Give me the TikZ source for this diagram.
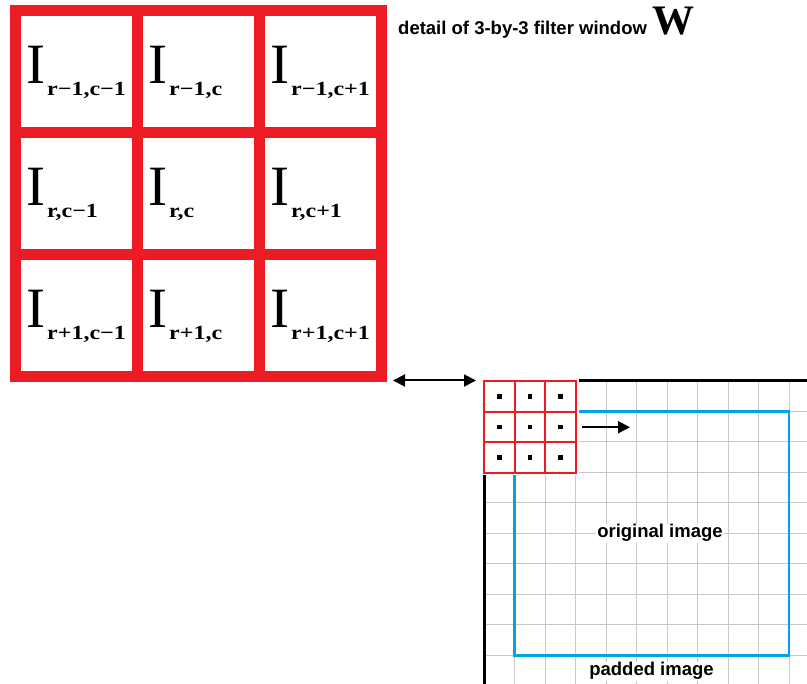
\documentclass[tikz,border=0pt]{standalone}
\usepackage{fontspec}
\setmainfont{Liberation Serif}
\setsansfont{Liberation Sans}
\usetikzlibrary{arrows.meta}
\definecolor{winred}{RGB}{237,28,36}
\definecolor{padblue}{RGB}{0,162,232}
\definecolor{gridgray}{RGB}{200,200,200}
\newcommand{\pix}[1]{{\fontsize{57}{57}\selectfont I}\hspace{2pt}\raisebox{-12pt}{\scalebox{1.2}[1]{\bfseries\fontsize{20}{20}\selectfont #1}}}
\tikzset{
	% cells of the big filter window and of the small window on the image
	big cell/.style={rectangle,draw=winred,line width=11,minimum size=122,inner sep=0},
	small cell/.style={rectangle,draw=winred,fill=white,line width=2,minimum size=30.5,inner sep=0},
	entry/.style={anchor=base west,inner sep=0},
	caption/.style={anchor=base,fill=white,inner sep=1,font=\sffamily\bfseries\fontsize{18.5}{20}\selectfont}
}

\begin{document}
\begin{tikzpicture}[x=1pt,y=-1pt,>={Triangle[length=12pt,width=12pt]}]
\useasboundingbox (0,0) rectangle (807,684);

% padded image: grid, original image border and axes
\draw[gridgray,line width=1,shift={(484,381)}] (0,0) grid[xstep=30.5pt,ystep=30.5pt] (323,303);
\draw[padblue,line width=2.5] (514.5,411.5) rectangle (789,655.5);
\draw[black,line width=3] (807,381) -- (484,381) -- (484,684);
\fill[white] (481,379) rectangle (578.5,475.5);

% small 3-by-3 window on the image
\node(w11) at (499.25,396.75) [small cell] {\rule{4.5pt}{4.5pt}};
\node(w12) at (529.75,396.75) [small cell] {\rule{4.5pt}{4.5pt}};
\node(w13) at (560.25,396.75) [small cell] {\rule{4.5pt}{4.5pt}};
\node(w21) at (499.25,427.25) [small cell] {\rule{4.5pt}{4.5pt}};
\node(w22) at (529.75,427.25) [small cell] {\rule{4.5pt}{4.5pt}};
\node(w23) at (560.25,427.25) [small cell] {\rule{4.5pt}{4.5pt}};
\node(w31) at (499.25,457.75) [small cell] {\rule{4.5pt}{4.5pt}};
\node(w32) at (529.75,457.75) [small cell] {\rule{4.5pt}{4.5pt}};
\node(w33) at (560.25,457.75) [small cell] {\rule{4.5pt}{4.5pt}};

% detail of the filter window
\node(I11) at (76.5,71.5) [big cell] {};
\node(I12) at (198.5,71.5) [big cell] {};
\node(I13) at (320.5,71.5) [big cell] {};
\node(I21) at (76.5,193.5) [big cell] {};
\node(I22) at (198.5,193.5) [big cell] {};
\node(I23) at (320.5,193.5) [big cell] {};
\node(I31) at (76.5,315.5) [big cell] {};
\node(I32) at (198.5,315.5) [big cell] {};
\node(I33) at (320.5,315.5) [big cell] {};

\node(t11) at (26,84) [entry] {\pix{r−1,c−1}};
\node(t12) at (148,84) [entry] {\pix{r−1,c}};
\node(t13) at (270,84) [entry] {\pix{r−1,c+1}};
\node(t21) at (26,206) [entry] {\pix{r,c−1}};
\node(t22) at (148,206) [entry] {\pix{r,c}};
\node(t23) at (270,206) [entry] {\pix{r,c+1}};
\node(t31) at (26,328) [entry] {\pix{r+1,c−1}};
\node(t32) at (148,328) [entry] {\pix{r+1,c}};
\node(t33) at (270,328) [entry] {\pix{r+1,c+1}};

\node(title) at (398,35) [entry, font=\sffamily\bfseries\fontsize{18.5}{20}\selectfont]
	{detail of 3-by-3 filter window {\rmfamily\bfseries\fontsize{42}{42}\selectfont W}};

\node(orig) at (660,538) [caption] {original image};
\node(padded) at (651.5,676) [caption] {padded image};

% arrows
\coordinate (next) at (630,427.25);
\draw[<->, line width=2] ([xshift=6]I33.south east |- w11.north west) -- ([xshift=-7]w11.north west);
\draw[->, line width=2, shorten <=5] (w23.east) -- (next);

\end{tikzpicture}
\end{document}
